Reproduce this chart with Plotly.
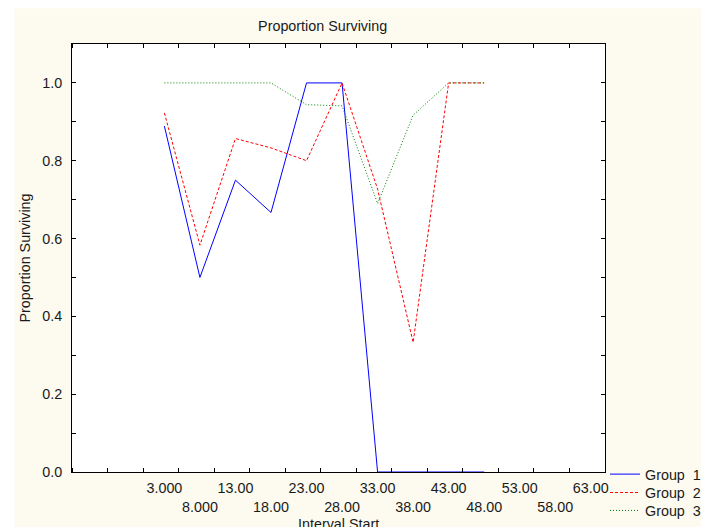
import plotly.graph_objects as go

# Data
interval_start = [3, 8, 13, 18, 23, 28, 33, 38, 43, 48]
group1 = [0.889, 0.5, 0.75, 0.667, 1.0, 1.0, 0.0, 0.0, 0.0, 0.0]
group2 = [0.923, 0.583, 0.857, 0.833, 0.8, 1.0, 0.727, 0.333, 1.0, 1.0]
group3 = [1.0, 1.0, 1.0, 1.0, 0.944, 0.941, 0.69, 0.917, 1.0, 1.0]
series_names = ["Group\u00a0\u00a01", "Group\u00a0\u00a02", "Group\u00a0\u00a03"]
tick_values = [3, 8, 13, 18, 23, 28, 33, 38, 43, 48, 53, 58, 63]
tick_labels = ["3.000", "8.000", "13.00", "18.00", "23.00", "28.00", "33.00",
               "38.00", "43.00", "48.00", "53.00", "58.00", "63.00"]
x_title = "Interval Start"
y_title = "Proportion Surviving"
chart_title = "Proportion Surviving"

FONT = "Liberation Sans, Arial, sans-serif"
W, H = 718, 540
K = W / 701            # page-to-picture compensation


def s(v):
    return v * K


ML, MR, MT, MB = s(70), s(94), s(43), s(66)
PW, PH = W - ML - MR, H - MT - MB
FS = 14 * K

fig = go.Figure()
styles = [
    dict(color="#0000FF", width=1, dash="solid"),
    dict(color="#FF0000", width=1, dash="3px,2px"),
    dict(color="#008000", width=1, dash="1px,2px"),
]
legend_ids = ["legend", "legend2", "legend3"]
for name, ys, st, lg in zip(series_names, [group1, group2, group3], styles, legend_ids):
    fig.add_trace(go.Scatter(x=interval_start, y=ys, mode="lines", name=name,
                             line=st, cliponaxis=False, legend=lg))

staggered = [t if i % 2 == 0 else "<br>" + t for i, t in enumerate(tick_labels)]

plot_bottom = H - MB


def legend_at(ref_center_y):
    top_page = s(ref_center_y) - 17.6
    return dict(x=1.0, xanchor="left", y=(plot_bottom - top_page) / PH, yanchor="top",
                bgcolor="rgba(0,0,0,0)", font=dict(size=FS, family=FONT, color="#1a1a1a"),
                itemwidth=30)


fig.update_layout(
    width=W, height=H,
    margin=dict(l=ML, r=MR, t=MT, b=MB),
    paper_bgcolor="#FDFAF0",
    plot_bgcolor="#FFFFFF",
    font=dict(family=FONT, size=FS, color="#1a1a1a"),
    title=dict(text=chart_title, x=315 / 701, xref="container",
               xanchor="center", y=1 - 25 / 527, yanchor="middle",
               font=dict(size=FS, family=FONT, color="#1a1a1a")),
    showlegend=True,
    legend=legend_at(465),
    legend2=legend_at(483),
    legend3=legend_at(500.5),
    xaxis=dict(range=[-10, 65], tickmode="array", tickvals=tick_values, ticktext=staggered,
               ticks="", showgrid=False, zeroline=False, showline=True, linecolor="black",
               linewidth=1, mirror="ticks", tickangle=0, ticklabelstandoff=3,
               minor=dict(tick0=0, dtick=5, ticks="inside", ticklen=4, tickcolor="black",
                          showgrid=False)),
    yaxis=dict(range=[0, 1.1], tickmode="linear", tick0=0, dtick=0.2, tickformat=".1f",
               ticks="inside", ticklen=4, tickcolor="black", showgrid=False, zeroline=False,
               showline=True, linecolor="black", linewidth=1, mirror="ticks",
               ticklabelstandoff=6,
               minor=dict(tick0=0, dtick=0.1, ticks="inside", ticklen=4, tickcolor="black",
                          showgrid=False),
               title=dict(text=y_title, standoff=8, font=dict(size=FS))),
    annotations=[
        dict(text=x_title, xref="paper", yref="paper", x=0.5, xanchor="center",
             y=(plot_bottom - (s(519) - 7)) / PH, yanchor="middle", showarrow=False,
             font=dict(size=FS, family=FONT, color="#1a1a1a")),
    ],
    shapes=[
        dict(type="rect", xref="paper", yref="paper", layer="below",
             x0=-ML / PW - 0.01, x1=1 + MR / PW + 0.01, y0=1 + (MT - s(8)) / PH,
             y1=1 + MT / PH + 0.01,
             fillcolor="#FFFFFF", line=dict(width=0)),
        dict(type="rect", xref="paper", yref="paper", layer="below",
             x0=-ML / PW - 0.01, x1=-(ML - s(12)) / PW, y0=-MB / PH - 0.01,
             y1=1 + MT / PH + 0.01,
             fillcolor="#FFFFFF", line=dict(width=0)),
    ],
)

fig.write_html(
    "out.html",
    config={"displayModeBar": False},
    post_script="document.body.style.margin='0px';document.body.style.overflow='hidden';"
                "document.documentElement.style.overflow='hidden';",
)
